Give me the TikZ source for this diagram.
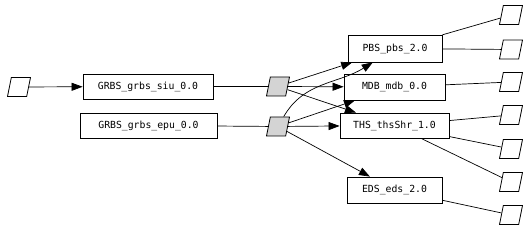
\documentclass[tikz,border=0pt]{standalone}
\usepackage{fontspec}
\setmonofont{DejaVu Sans Mono}
\usetikzlibrary{shapes.geometric,arrows.meta}
\tikzset{
  box/.style={draw, line width=0.8pt, rectangle, inner sep=0pt, font=\ttfamily\fontsize{9.8}{11}\selectfont},
  para/.style={draw, line width=0.8pt, trapezium, trapezium left angle=76, trapezium right angle=104, trapezium stretches=true, minimum width=23pt, minimum height=19pt, inner sep=1pt, fill=white},
  gpara/.style={para, fill=black!17},
  conn/.style={line width=0.7pt},
  arr/.style={conn, -{Triangle[length=11pt,width=8pt]}}
}
\begin{document}
\begin{tikzpicture}[x=1pt,y=-1pt]
\useasboundingbox (0,0) rectangle (530,229);
\node[para] (l) at (19,87) {};
\node[box, minimum width=130pt, minimum height=25pt] (siu) at (148,86.5) {GRBS\_grbs\_siu\_0.0};
\node[box, minimum width=137pt, minimum height=25pt] (epu) at (148.5,125.5) {GRBS\_grbs\_epu\_0.0};
\node[gpara] (g1) at (278,86.5) {};
\node[gpara] (g2) at (278,126.5) {};
\node[box, minimum width=94pt, minimum height=27pt] (pbs) at (395,48.5) {PBS\_pbs\_2.0};
\node[box, minimum width=101pt, minimum height=26pt] (mdb) at (394.5,87) {MDB\_mdb\_0.0};
\node[box, minimum width=109pt, minimum height=25pt] (ths) at (394.5,125.5) {THS\_thsShr\_1.0};
\node[box, minimum width=95pt, minimum height=26pt] (eds) at (394.5,190) {EDS\_eds\_2.0};
\node[para] (r1) at (511,15) {};
\node[para] (r2) at (511,49.5) {};
\node[para] (r3) at (511,82) {};
\node[para] (r4) at (511,115) {};
\node[para] (r5) at (511,149) {};
\node[para] (r6) at (511,182) {};
\node[para] (r7) at (511,215) {};
\draw[arr] (l) -- (siu);
\draw[conn] (siu) -- (g1);
\draw[conn] (epu) -- (g2);
\draw[arr] (g1) -- (pbs);
\draw[arr] (g1) -- (mdb);
\draw[arr] (g1) -- (ths);
\draw[arr] (g2) to[out=60,in=-148] (pbs);
\draw[arr] (g2) -- (mdb);
\draw[arr] (g2) -- (ths);
\draw[arr] (g2) -- (eds);
\draw[conn] (pbs) -- (r1);
\draw[conn] (pbs) -- (r2);
\draw[conn] (mdb) -- (r3);
\draw[conn] (ths) -- (r4);
\draw[conn] (ths) -- (r5);
\draw[conn] (ths) -- (r6);
\draw[conn] (eds) -- (r7);
\end{tikzpicture}
\end{document}
